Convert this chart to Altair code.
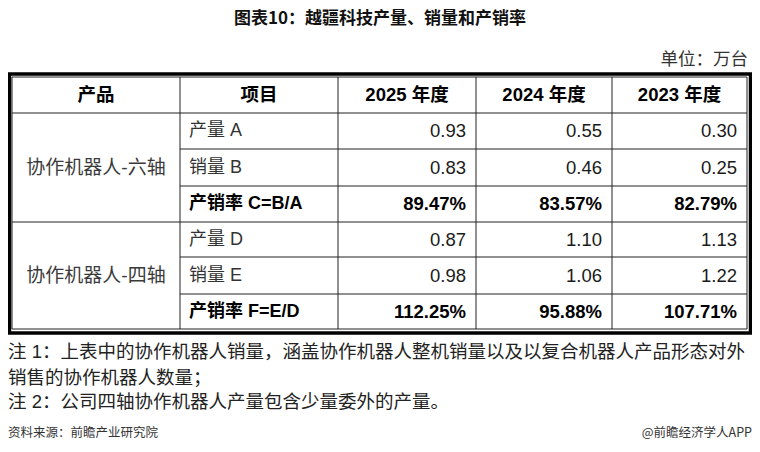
import altair as alt
import pandas as pd

TITLE = "图表10：越疆科技产量、销量和产销率"
UNIT = "单位：万台"
HEADERS = ["产品", "项目", "2025 年度", "2024 年度", "2023 年度"]
PRODUCTS = ["协作机器人-六轴", "协作机器人-四轴"]
ITEMS = ["产量 A", "销量 B", "产销率 C=B/A", "产量 D", "销量 E", "产销率 F=E/D"]

# values by year: 2025, 2024, 2023 (万台 / %)
OUTPUT_6 = [0.93, 0.55, 0.30]
SALES_6 = [0.83, 0.46, 0.25]
RATE_6 = [89.47, 83.57, 82.79]
OUTPUT_4 = [0.87, 1.10, 1.13]
SALES_4 = [0.98, 1.06, 1.22]
RATE_4 = [112.25, 95.88, 107.71]

NOTES = [
    "注 1：上表中的协作机器人销量，涵盖协作机器人整机销量以及以复合机器人产品形态对外",
    "销售的协作机器人数量；",
    "注 2：公司四轴协作机器人产量包含少量委外的产量。",
]
SOURCE = "资料来源：前瞻产业研究院"
CREDIT = "@前瞻经济学人APP"

# layout (pixels); TOP is a padding band above the plot area that holds the title
TOP = 22
W, H = 744, 436 - TOP
COL_EDGES = [4, 172, 330, 468, 604, 739]
ROW_EDGES = [e - TOP for e in [69, 105, 141, 178, 214, 249, 286, 321]]
FONT = "Liberation Sans, Noto Sans CJK SC"
CJK = "Noto Sans CJK SC"

xs = alt.Scale(domain=list(range(len(COL_EDGES))), range=COL_EDGES, nice=False, zero=False)
ys = alt.Scale(domain=list(range(len(ROW_EDGES))), range=ROW_EDGES, nice=False, zero=False)

series = [OUTPUT_6, SALES_6, RATE_6, OUTPUT_4, SALES_4, RATE_4]
rate_rows = {2, 5}

val_rows = []
for i, vals in enumerate(series):
    for j, v in enumerate(vals):
        txt = f"{v:.2f}%" if i in rate_rows else f"{v:.2f}"
        val_rows.append({"c": j + 3, "r": i + 1.5, "t": txt, "bold": i in rate_rows})
vals_df = pd.DataFrame(val_rows)

items_df = pd.DataFrame({"c": 1, "r": [i + 1.5 for i in range(len(ITEMS))], "t": ITEMS,
                         "bold": [i in rate_rows for i in range(len(ITEMS))]})
prod_df = pd.DataFrame({"c": 0.5, "r": [2.5, 5.5], "t": PRODUCTS})
head_df = pd.DataFrame({"c": [0.5, 1.5, 2.5, 3.5, 4.5], "r": 0.5, "t": HEADERS})

n_cols = len(COL_EDGES) - 1
n_rows = len(ROW_EDGES) - 1
hl = [{"r": r, "c0": 0, "c1": n_cols} for r in (0, 1, 4, n_rows)]
hl += [{"r": r, "c0": 1, "c1": n_cols} for r in (2, 3, 5, 6)]
vl = [{"c": c, "r0": 0, "r1": n_rows} for c in range(n_cols + 1)]


def X(f="c"):
    return alt.X(f"{f}:Q", scale=xs, axis=None)


def Y(f="r"):
    return alt.Y(f"{f}:Q", scale=ys, axis=None)


hlines = alt.Chart(pd.DataFrame(hl)).mark_rule(color="#222", strokeWidth=1).encode(
    x=X("c0"), x2="c1:Q", y=Y()
)
vlines = alt.Chart(pd.DataFrame(vl)).mark_rule(color="#222", strokeWidth=1).encode(
    x=X(), y=Y("r0"), y2="r1:Q"
)
outer = alt.Chart(pd.DataFrame({"a": [0]})).mark_rect(
    fillOpacity=0, stroke="black", strokeWidth=3.5
).encode(x=alt.value(1.5), x2=alt.value(742.5), y=alt.value(66 - TOP), y2=alt.value(325 - TOP))

header = alt.Chart(head_df).mark_text(
    font=FONT, fontSize=18.5, fontWeight="bold", color="black", baseline="middle"
).encode(x=X(), y=Y(), text="t:N")

products = alt.Chart(prod_df).mark_text(
    font=FONT, fontSize=19, color="#3a3a3a", baseline="middle"
).encode(x=X(), y=Y(), text="t:N")

items_reg = alt.Chart(items_df[~items_df["bold"]]).mark_text(
    font=FONT, fontSize=18, color="#333", align="left", dx=9, baseline="middle"
).encode(x=X(), y=Y(), text="t:N")
items_bold = alt.Chart(items_df[items_df["bold"]]).mark_text(
    font=FONT, fontSize=18, fontWeight="bold", color="black", align="left", dx=9, baseline="middle"
).encode(x=X(), y=Y(), text="t:N")

vals_reg = alt.Chart(vals_df[~vals_df["bold"]]).mark_text(
    font=FONT, fontSize=18.5, color="#1a1a1a", align="right", dx=-10, baseline="middle"
).encode(x=X(), y=Y(), text="t:N")
vals_bold = alt.Chart(vals_df[vals_df["bold"]]).mark_text(
    font=FONT, fontSize=18.5, fontWeight="bold", color="black", align="right", dx=-10, baseline="middle"
).encode(x=X(), y=Y(), text="t:N")

title = alt.Chart(pd.DataFrame({"t": [TITLE]})).mark_text(
    font=CJK, fontSize=17, fontWeight="bold", color="#111", baseline="middle"
).encode(x=alt.value(W / 2), y=alt.value(11 - TOP), text="t:N")

unit = alt.Chart(pd.DataFrame({"t": [UNIT]})).mark_text(
    font=CJK, fontSize=17.5, color="#333", align="right", baseline="middle"
).encode(x=alt.value(740), y=alt.value(52 - TOP), text="t:N")

notes = alt.Chart(pd.DataFrame({"t": NOTES, "y": [e - TOP for e in [344, 370, 394]]})).mark_text(
    font=FONT, fontSize=18.5, color="#222", align="left", baseline="middle"
).encode(x=alt.value(0), y=alt.Y("y:Q", scale=alt.Scale(domain=[0, H], range=[0, H]), axis=None), text="t:N")

source = alt.Chart(pd.DataFrame({"t": [SOURCE]})).mark_text(
    font=CJK, fontSize=12.5, color="#333", align="left", baseline="middle"
).encode(x=alt.value(0), y=alt.value(425 - TOP), text="t:N")
credit = alt.Chart(pd.DataFrame({"t": [CREDIT]})).mark_text(
    font=CJK, fontSize=12.5, color="#333", align="right", baseline="middle"
).encode(x=alt.value(W), y=alt.value(425 - TOP), text="t:N")

chart = alt.layer(
    hlines, vlines, outer, header, products, items_reg, items_bold, vals_reg, vals_bold,
    title, unit, notes, source, credit
).resolve_scale(y="independent").properties(
    width=W, height=H, autosize=alt.AutoSizeParams(type="none"),
    padding={"top": TOP, "left": 0, "right": 0, "bottom": 0}
).configure_view(stroke=None)

chart.save("out.html", embed_options={"renderer": "svg", "actions": False})
